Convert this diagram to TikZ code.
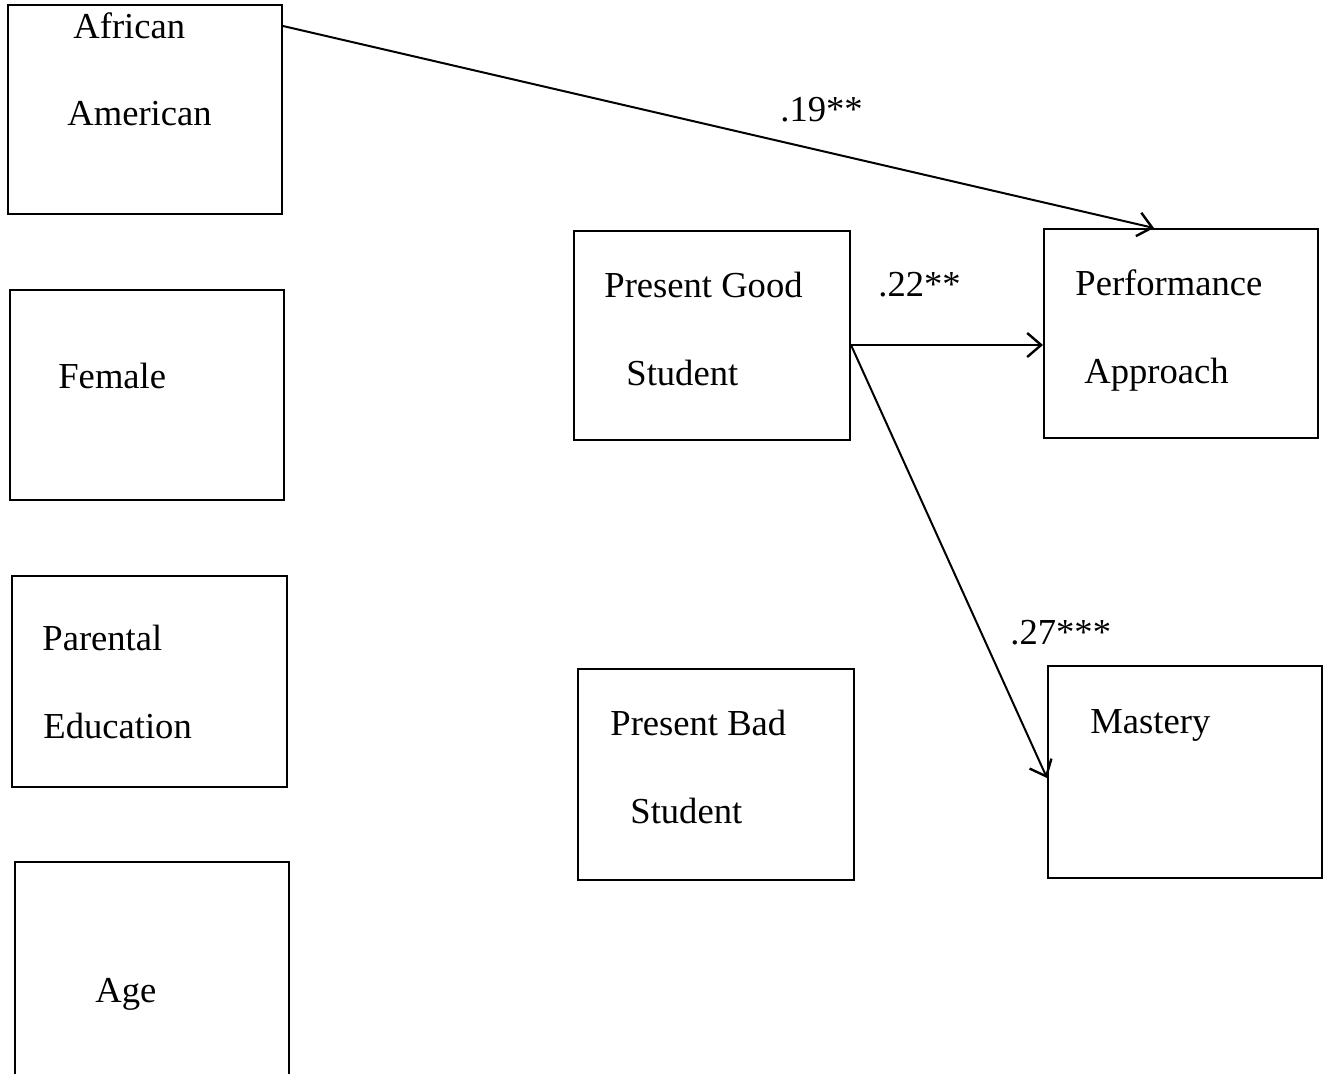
\documentclass[tikz,border=0pt]{standalone}
\usepackage{fontspec}
\setmainfont{Liberation Serif}
\usetikzlibrary{fit,arrows.meta,calc}
\begin{document}
\begin{tikzpicture}[x=0.5pt,y=-0.5pt,
  box/.style={draw,line width=1pt,inner sep=0pt,rectangle},
  lbl/.style={anchor=base west,inner sep=0pt,font=\fontsize{18.3}{22}\selectfont},
  arr/.style={line width=1pt,-{Straight Barb[length=7pt,width=12pt,line width=1.2pt]}}]
\useasboundingbox (0,0) rectangle (1332,1073);
\clip (0,0) rectangle (1332,1073);
% boxes
\node[box,fit={(8,5)(282,214)}] (aa) {};
\node[box,fit={(10,290)(284,500)}] (fe) {};
\node[box,fit={(12,576)(287,787)}] (pe) {};
\node[box,fit={(15,862)(289,1100)}] (ag) {};
\node[box,fit={(574,231)(850,440)}] (pg) {};
\node[box,fit={(578,669)(854,880)}] (pb) {};
\node[box,fit={(1044,229)(1318,438)}] (pa) {};
\node[box,fit={(1048,666)(1322,878)}] (ms) {};
% texts
\node[lbl] (t1) at (73,38) {African};
\node[lbl] (t2) at (67,125) {American};
\node[lbl] (t3) at (58,388) {Female};
\node[lbl] (t4) at (42,650) {Parental};
\node[lbl] (t5) at (43,738) {Education};
\node[lbl] (t6) at (95,1002) {Age};
\node[lbl] (t7) at (604,297) {Present Good};
\node[lbl] (t8) at (626,385) {Student};
\node[lbl] (t9) at (610,735) {Present Bad};
\node[lbl] (t10) at (630,823) {Student};
\node[lbl] (t11) at (1075,295) {Performance};
\node[lbl] (t12) at (1084,383) {Approach};
\node[lbl] (t13) at (1090,733) {Mastery};
\node[lbl] (c1) at (780,121) {.19**};
\node[lbl] (c2) at (878,296) {.22**};
\node[lbl] (c3) at (1010,644) {.27***};
% connectors
\coordinate (s1) at ([yshift=-11pt]aa.north east);
\coordinate (e1) at ([xshift=55.5pt]pa.north west);
\draw[arr] (s1) -- (e1);
\coordinate (s2) at ([yshift=-4.75pt]pg.east);
\draw[arr] (s2) -- (s2 -| pa.west);
\draw[arr] (s2) -- ([yshift=-3pt]ms.west);
\end{tikzpicture}
\end{document}
